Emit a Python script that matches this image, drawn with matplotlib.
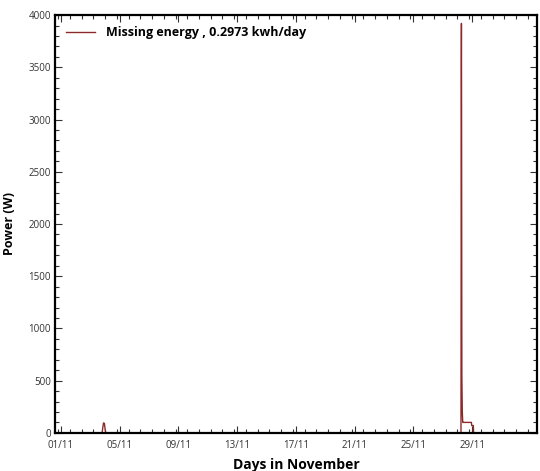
import matplotlib
matplotlib.use("Agg")
import matplotlib.pyplot as plt
from matplotlib.ticker import MultipleLocator, FixedLocator

# Time in days of November (1.0 = 01/11 00:00), power in W
t_days = [0.6, 3.80, 3.86, 3.90, 3.96, 4.02, 4.06,
          28.20, 28.24, 28.25, 28.26, 28.27, 28.28, 28.29, 28.30, 28.31,
          28.33, 28.36, 28.40, 28.95, 28.97, 29.08, 29.10, 33.4]
power_w = [0, 0, 60, 95, 90, 20, 0,
           0, 0, 1380, 3480, 3920, 3060, 1650, 540, 420,
           200, 100, 100, 100, 70, 70, 0, 0]

tick_days = [1, 5, 9, 13, 17, 21, 25, 29]
tick_labels = ["01/11", "05/11", "09/11", "13/11", "17/11", "21/11", "25/11", "29/11"]
legend_label = "Missing energy , 0.2973 kwh/day"

plt.rcParams['font.family'] = ['Open Sans', 'DejaVu Sans']

fig = plt.figure(figsize=(5.4, 4.71), dpi=100)
ax = fig.add_axes([0.102, 0.081, 0.892, 0.887])

ax.plot(t_days, power_w, color="#8c2a2a", lw=1.0, label=legend_label)

ax.set_xlim(0.6, 33.4)
ax.set_ylim(0, 4000)
ax.xaxis.set_major_locator(FixedLocator(tick_days))
ax.set_xticklabels(tick_labels)
ax.xaxis.set_minor_locator(MultipleLocator(0.8))
ax.yaxis.set_major_locator(MultipleLocator(500))
ax.yaxis.set_minor_locator(MultipleLocator(100))

ax.tick_params(which="both", direction="in", top=True, right=True,
               labelsize=7, labelcolor="#333333", width=0.8, color="#333333")
ax.tick_params(which="major", length=5)
ax.tick_params(which="minor", length=3)
ax.tick_params(axis="y", pad=3)
ax.tick_params(axis="x", pad=5)

for s in ax.spines.values():
    s.set_linewidth(1.6)

ax.set_xlabel("Days in November", fontsize=10, fontweight="bold", labelpad=5)
ax.set_ylabel("Power (W)", fontsize=9, fontweight="bold", labelpad=9)

leg = ax.legend(loc="upper left", frameon=False, prop={"weight": "bold", "size": 9},
                handlelength=2.3, handletextpad=0.9, borderaxespad=0.5,
                bbox_to_anchor=(0.0, 1.0))

fig.savefig("out.png", dpi=100)
